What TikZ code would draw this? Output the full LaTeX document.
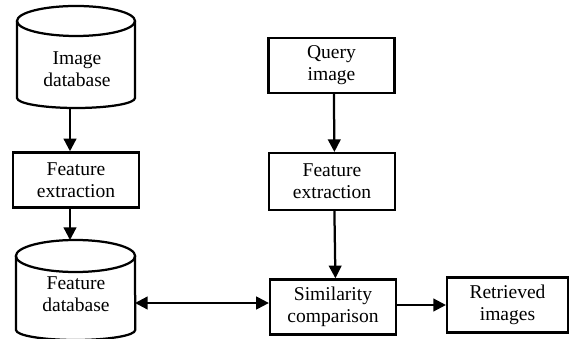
\documentclass[tikz,border=0pt]{standalone}
\usepackage{fontspec}
\setmainfont{Liberation Serif}
\usetikzlibrary{positioning, arrows.meta}

\tikzset{
  lbl/.style={font=\rmfamily\fontsize{13.9}{15.6}\selectfont, align=center, inner sep=0pt},
  box/.style={lbl, draw, line width=1.6pt, minimum width=3.15cm, minimum height=1.38cm},
  dbline/.style={line width=1.6pt},
  arr/.style={line width=1.6pt, -{Triangle[length=9pt, width=9pt]}},
  biarr/.style={line width=1.6pt, {Triangle[length=9pt, width=9pt]}-{Triangle[length=9pt, width=9pt]}}
}

\begin{document}
\begin{tikzpicture}[x=0.025cm, y=-0.025cm]
\useasboundingbox[fill=white] (0,0) rectangle (570,339);
\begin{scope}
\clip (0,0) rectangle (570,339);
% image database (cylinder)
\draw[dbline] (76,21) ellipse [x radius=1.475cm, y radius=0.375cm];
\draw[dbline] (17,21) -- (17,98) arc [start angle=180, end angle=360, x radius=1.475cm, y radius=0.25cm] -- (135,21);
\node[lbl] (imgdb) at (77,69) {Image\\database};
\coordinate (imgdbbot) at (70,108);
% feature database (cylinder)
\draw[dbline] (75.5,256) ellipse [x radius=1.49cm, y radius=0.4cm];
\draw[dbline] (16,256) -- (16,330) arc [start angle=180, end angle=360, x radius=1.49cm, y radius=0.25cm] -- (135,256);
\node[lbl] (featdb) at (76,294) {Feature\\database};
\coordinate (featdbtop) at (70,240);
\coordinate (featdbside) at (135,303);
% boxes
\node[box] (fe1) at (76,180) {Feature\\extraction};
\node[box] (query) at (331.5,65.5) {Query\\image};
\node[box, minimum height=1.42cm] (fe2) at (332,181.5) {Feature\\extraction};
\node[box] (sim) at (333,307) {Similarity\\comparison};
\node[box, minimum width=3.02cm] (retr) at (507.5,305) {Retrieved\\images};
\end{scope}
% connectors
\draw[arr] (imgdbbot) -- (imgdbbot |- fe1.north);
\draw[arr] (imgdbbot |- fe1.south) -- (featdbtop);
\draw[arr] ([xshift=0.06cm]query.south) -- ([xshift=0.06cm]fe2.north);
\draw[arr] ([xshift=0.06cm]fe2.south) -- ([xshift=0.06cm]sim.north);
\draw[biarr] (featdbside) -- (featdbside -| sim.west);
\draw[arr] (sim.east |- retr.west) -- (retr.west);
\end{tikzpicture}
\end{document}
